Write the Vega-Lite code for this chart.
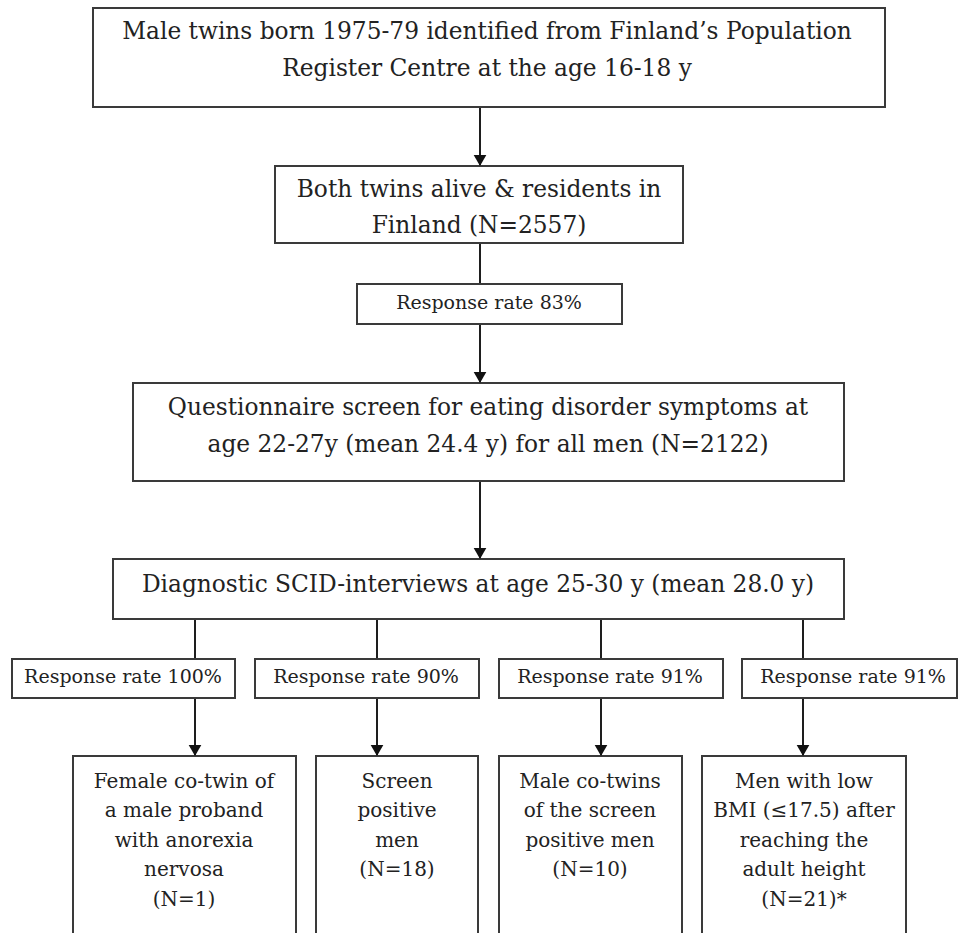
{
  "$schema": "https://vega.github.io/schema/vega-lite/v6.json",
  "width": 959,
  "height": 933,
  "padding": 0,
  "autosize": {"type": "none"},
  "background": "white",
  "config": {"view": {"stroke": null}},
  "datasets": {
    "boxes": [
      {"id": "b1", "x1": 93, "x2": 885, "y1": 8, "y2": 107},
      {"id": "b2", "x1": 275, "x2": 683, "y1": 166, "y2": 243},
      {"id": "b3", "x1": 357, "x2": 622, "y1": 284, "y2": 324},
      {"id": "b4", "x1": 133, "x2": 844, "y1": 383, "y2": 481},
      {"id": "b5", "x1": 113, "x2": 844, "y1": 559, "y2": 619},
      {"id": "r1", "x1": 12, "x2": 235, "y1": 659, "y2": 698},
      {"id": "r2", "x1": 255, "x2": 479, "y1": 659, "y2": 698},
      {"id": "r3", "x1": 499, "x2": 723, "y1": 659, "y2": 698},
      {"id": "r4", "x1": 742, "x2": 957, "y1": 659, "y2": 698},
      {"id": "s1", "x1": 73, "x2": 296, "y1": 756, "y2": 960},
      {"id": "s2", "x1": 316, "x2": 478, "y1": 756, "y2": 960},
      {"id": "s3", "x1": 499, "x2": 682, "y1": 756, "y2": 960},
      {"id": "s4", "x1": 702, "x2": 906, "y1": 756, "y2": 960}
    ],
    "links": [
      {"x": 480, "y1": 107, "y2": 166, "arrow": true},
      {"x": 480, "y1": 243, "y2": 284, "arrow": false},
      {"x": 480, "y1": 324, "y2": 383, "arrow": true},
      {"x": 480, "y1": 481, "y2": 559, "arrow": true},
      {"x": 195, "y1": 619, "y2": 659, "arrow": false},
      {"x": 377, "y1": 619, "y2": 659, "arrow": false},
      {"x": 601, "y1": 619, "y2": 659, "arrow": false},
      {"x": 803, "y1": 619, "y2": 659, "arrow": false},
      {"x": 195, "y1": 698, "y2": 756, "arrow": true},
      {"x": 377, "y1": 698, "y2": 756, "arrow": true},
      {"x": 601, "y1": 698, "y2": 756, "arrow": true},
      {"x": 803, "y1": 698, "y2": 756, "arrow": true}
    ],
    "labels": [
      {"kind": "main", "x": 487, "y": 32, "text": "Male twins born 1975-79 identified from Finland’s Population"},
      {"kind": "main", "x": 487, "y": 69, "text": "Register Centre at the age 16-18 y"},
      {"kind": "main", "x": 479, "y": 190, "text": "Both twins alive & residents in"},
      {"kind": "main", "x": 479, "y": 226, "text": "Finland (N=2557)"},
      {"kind": "rate", "x": 489, "y": 303, "text": "Response rate 83%"},
      {"kind": "main", "x": 488, "y": 408, "text": "Questionnaire screen for eating disorder symptoms at"},
      {"kind": "main", "x": 488, "y": 445, "text": "age 22-27y (mean 24.4 y) for all men (N=2122)"},
      {"kind": "main", "x": 478, "y": 585, "text": "Diagnostic SCID-interviews at age 25-30 y (mean 28.0 y)"},
      {"kind": "rate", "x": 123, "y": 677, "text": "Response rate 100%"},
      {"kind": "rate", "x": 366, "y": 677, "text": "Response rate 90%"},
      {"kind": "rate", "x": 610, "y": 677, "text": "Response rate 91%"},
      {"kind": "rate", "x": 853, "y": 677, "text": "Response rate 91%"},
      {"kind": "sub", "x": 184, "y": 782, "text": "Female co-twin of"},
      {"kind": "sub", "x": 184, "y": 811, "text": "a male proband"},
      {"kind": "sub", "x": 184, "y": 841, "text": "with anorexia"},
      {"kind": "sub", "x": 184, "y": 870, "text": "nervosa"},
      {"kind": "sub", "x": 184, "y": 900, "text": "(N=1)"},
      {"kind": "sub", "x": 397, "y": 782, "text": "Screen"},
      {"kind": "sub", "x": 397, "y": 811, "text": "positive"},
      {"kind": "sub", "x": 397, "y": 841, "text": "men"},
      {"kind": "sub", "x": 397, "y": 870, "text": "(N=18)"},
      {"kind": "sub", "x": 590, "y": 782, "text": "Male co-twins"},
      {"kind": "sub", "x": 590, "y": 811, "text": "of the screen"},
      {"kind": "sub", "x": 590, "y": 841, "text": "positive men"},
      {"kind": "sub", "x": 590, "y": 870, "text": "(N=10)"},
      {"kind": "sub", "x": 804, "y": 782, "text": "Men with low"},
      {"kind": "sub", "x": 804, "y": 811, "text": "BMI (≤17.5) after"},
      {"kind": "sub", "x": 804, "y": 841, "text": "reaching the"},
      {"kind": "sub", "x": 804, "y": 870, "text": "adult height"},
      {"kind": "sub", "x": 804, "y": 900, "text": "(N=21)*"}
    ]
  },
  "layer": [
    {
      "data": {"name": "links"},
      "mark": {"type": "rule", "stroke": "#1e1e1e", "strokeWidth": 2},
      "encoding": {
        "x": {"field": "x", "type": "quantitative", "scale": {"domain": [0, 959], "nice": false, "zero": false}, "axis": null},
        "y": {"field": "y1", "type": "quantitative", "scale": {"domain": [0, 933], "nice": false, "zero": false, "reverse": true}, "axis": null},
        "y2": {"field": "y2"}
      }
    },
    {
      "data": {"name": "boxes"},
      "mark": {"type": "rect", "fill": "white", "stroke": "#3a3a3a", "strokeWidth": 2, "clip": true},
      "encoding": {
        "x": {"field": "x1", "type": "quantitative", "axis": null},
        "x2": {"field": "x2"},
        "y": {"field": "y1", "type": "quantitative", "axis": null},
        "y2": {"field": "y2"}
      }
    },
    {
      "data": {"name": "links"},
      "transform": [{"filter": "datum.arrow"}],
      "mark": {"type": "point", "shape": "triangle-down", "filled": true, "fill": "#111111", "opacity": 1, "size": 160, "yOffset": -5.5, "strokeWidth": 0},
      "encoding": {
        "x": {"field": "x", "type": "quantitative", "axis": null},
        "y": {"field": "y2", "type": "quantitative", "axis": null}
      }
    },
    {
      "data": {"name": "labels"},
      "transform": [{"filter": "datum.kind === 'main'"}],
      "mark": {"type": "text", "font": "DejaVu Serif", "fontSize": 23.3, "color": "#222222", "align": "center", "baseline": "middle"},
      "encoding": {
        "x": {"field": "x", "type": "quantitative", "axis": null},
        "y": {"field": "y", "type": "quantitative", "axis": null},
        "text": {"field": "text"}
      }
    },
    {
      "data": {"name": "labels"},
      "transform": [{"filter": "datum.kind === 'rate'"}],
      "mark": {"type": "text", "font": "DejaVu Serif", "fontSize": 19, "color": "#222222", "align": "center", "baseline": "middle"},
      "encoding": {
        "x": {"field": "x", "type": "quantitative", "axis": null},
        "y": {"field": "y", "type": "quantitative", "axis": null},
        "text": {"field": "text"}
      }
    },
    {
      "data": {"name": "labels"},
      "transform": [{"filter": "datum.kind === 'sub'"}],
      "mark": {"type": "text", "font": "DejaVu Serif", "fontSize": 20, "color": "#222222", "align": "center", "baseline": "middle"},
      "encoding": {
        "x": {"field": "x", "type": "quantitative", "axis": null},
        "y": {"field": "y", "type": "quantitative", "axis": null},
        "text": {"field": "text"}
      }
    }
  ]
}
